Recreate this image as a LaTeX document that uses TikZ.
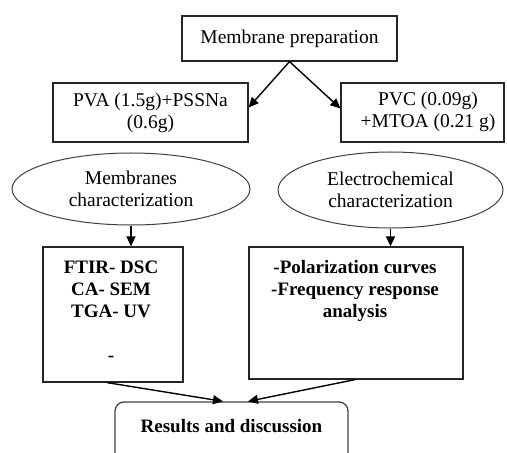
\documentclass[tikz,border=0pt]{standalone}
\usepackage{fontspec}
\setmainfont{Liberation Serif}
\usetikzlibrary{shapes.geometric,arrows.meta,calc}
\begin{document}
\begin{tikzpicture}[x=1bp,y=-1bp,
  box/.style={draw=black!85,line width=1.2bp,rectangle,inner sep=0pt},
  oval/.style={draw=black!75,line width=1bp,ellipse,inner sep=0pt},
  txt/.style={font=\fontsize{19.5bp}{22bp}\selectfont,align=center,inner sep=0pt},
  btxt/.style={font=\fontsize{19bp}{22bp}\selectfont\bfseries,align=center,inner sep=0pt},
  arr/.style={line width=1.4bp,-{Triangle[length=10bp,width=9bp]}}]
\useasboundingbox (0,0) rectangle (507,453);
\clip (0,0) rectangle (507,453);
% top
\node[box,minimum width=215bp,minimum height=45bp,txt] (top) at (289.5,38.5) {Membrane preparation};
% second row
\node[box,minimum width=195bp,minimum height=59bp,txt] (pva) at (150.5,112.5) {PVA (1.5g)+PSSNa\\(0.6g)};
\node[box,minimum width=163bp,minimum height=59bp] (pvc) at (422.5,112.5) {};
\node[txt] (pvct) at (428,112) {PVC (0.09g)\\+MTOA (0.21 g)};
% ellipses
\node[oval,minimum width=238bp,minimum height=72bp,txt] (mc) at (131,189) {Membranes\\characterization};
\node[oval,minimum width=225bp,minimum height=76bp,txt] (ec) at (390.5,190) {Electrochemical\\characterization};
% result boxes
\node[box,minimum width=140bp,minimum height=135bp] (ftir) at (113,314.5) {};
\node[btxt,anchor=north] (ftirt) at (111,260.5) {FTIR- DSC\\CA- SEM\\TGA- UV\\[22bp]-};
\node[box,minimum width=214bp,minimum height=132bp] (elec) at (356,313) {};
\node[btxt,anchor=north] (elect) at (355,260) {-Polarization curves\\-Frequency response\\analysis};
% results
\node[draw=black!75,line width=1.3bp,rounded corners=9bp,minimum width=233bp,minimum height=70bp,inner sep=0pt] (resbox) at (231.5,437) {};
\node[btxt] (res) at (231.5,426.5) {Results and discussion};
% connectors
\draw[arr] (top.south) -- ([yshift=5bp]pva.east);
\draw[arr] (top.south) -- ([yshift=4bp]pvc.west);
\draw[arr] (mc.south) -- (mc.south |- ftir.north);
\draw[arr] (ec.south) -- (ec.south |- elec.north);
\draw[arr] ([xshift=-6bp]ftir.south) -- ([xshift=-8.5bp]resbox.north);
\draw[arr] ([xshift=-1bp]elec.south) -- ([xshift=16.5bp]resbox.north);
\end{tikzpicture}
\end{document}
